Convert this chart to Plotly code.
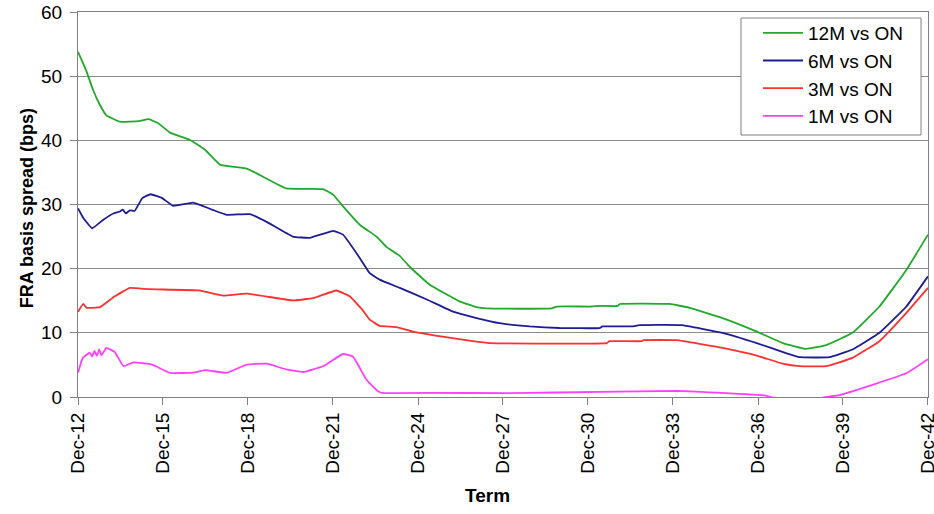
import plotly.graph_objects as go

# ---- data ----
dates_12m = ["2012-12-01", "2013-02-08", "2013-03-22", "2013-06-15", "2013-09-10", "2013-12-01",
             "2014-05-25", "2015-01-25", "2015-06-01", "2015-10-10", "2016-03-01", "2016-11-15",
             "2017-05-30", "2017-12-05", "2018-11-15", "2019-05-01", "2020-04-10", "2021-07-25",
             "2021-12-05", "2022-04-10", "2022-11-15", "2023-06-15", "2023-10-20", "2024-04-10",
             "2024-08-15", "2025-05-01", "2026-05-20", "2026-12-25", "2027-05-05", "2029-08-20",
             "2029-10-25", "2031-01-15", "2031-04-30", "2031-12-20", "2032-01-15", "2033-10-15",
             "2034-07-05", "2035-09-01", "2036-11-15", "2037-10-15", "2038-08-15", "2039-05-01",
             "2040-04-01", "2041-03-15", "2042-02-25", "2042-12-01"]
vals_12m = [53.8, 51.9, 50.7, 47.8, 45.5, 43.9,
            42.9, 43.0, 43.3, 42.6, 41.2, 40.05,
            38.5, 36.2, 35.6, 34.6, 32.5, 32.4,
            31.5, 29.7, 26.8, 25.0, 23.4, 22.0,
            20.3, 17.5, 14.9, 14.0, 13.8, 13.8,
            14.1, 14.1, 14.2, 14.2, 14.5, 14.5,
            13.9, 12.3, 10.2, 8.4, 7.5, 8.1,
            10.0, 14.1, 19.8, 25.3]

dates_6m = ["2012-12-01", "2013-02-08", "2013-06-01", "2013-10-20", "2014-03-01", "2014-05-25",
            "2014-07-01", "2014-08-10", "2014-10-01", "2014-12-01", "2015-03-10", "2015-06-25",
            "2015-11-20", "2016-04-10", "2016-12-25", "2017-08-25", "2018-03-01", "2018-12-25",
            "2019-07-30", "2020-07-01", "2021-02-05", "2021-12-05", "2022-04-10", "2022-11-15",
            "2023-03-20", "2023-07-25", "2024-04-10", "2025-03-25", "2026-02-25", "2026-12-25",
            "2027-10-20", "2028-11-10", "2029-12-01", "2031-04-30", "2031-06-05", "2032-06-15",
            "2032-09-25", "2034-03-20", "2035-09-01", "2036-11-15", "2037-12-05", "2038-05-20",
            "2039-06-10", "2040-04-01", "2041-03-15", "2042-02-25", "2042-12-01"]
vals_6m = [29.4, 27.9, 26.3, 27.6, 28.6, 28.9,
           29.2, 28.6, 29.1, 29.0, 31.0, 31.6,
           31.0, 29.8, 30.3, 29.2, 28.4, 28.5,
           27.3, 25.0, 24.8, 25.9, 25.3, 21.6,
           19.3, 18.3, 17.0, 15.2, 13.3, 12.3,
           11.5, 11.0, 10.75, 10.75, 11.0, 11.0,
           11.2, 11.2, 10.0, 8.4, 6.8, 6.2,
           6.2, 7.4, 10.0, 14.1, 18.8]

dates_3m = ["2012-12-01", "2013-02-08", "2013-03-22", "2013-09-10", "2014-03-20", "2014-10-01",
            "2015-06-01", "2017-03-10", "2018-01-15", "2018-11-15", "2020-07-01", "2021-03-20",
            "2022-01-15", "2022-07-05", "2022-12-20", "2023-03-20", "2023-07-25", "2024-03-01",
            "2024-09-25", "2025-10-15", "2026-11-05", "2027-06-10", "2031-07-30", "2031-09-05",
            "2032-10-20", "2032-11-15", "2034-01-15", "2035-09-01", "2036-11-15", "2037-10-15",
            "2038-05-20", "2039-05-01", "2040-04-01", "2041-03-15", "2042-02-25", "2042-12-01"]
vals_3m = [13.3, 14.5, 13.9, 14.0, 15.7, 17.0,
           16.8, 16.6, 15.8, 16.1, 15.05, 15.4,
           16.6, 15.7, 13.5, 12.05, 11.1, 10.9,
           10.2, 9.4, 8.7, 8.4, 8.4, 8.7,
           8.7, 8.85, 8.85, 7.65, 6.45, 5.2,
           4.8, 4.8, 6.1, 8.7, 13.1, 17.0]

dates_1m = ["2012-12-01", "2013-02-01", "2013-05-01", "2013-06-01", "2013-07-01", "2013-08-01",
            "2013-09-01", "2013-10-01", "2013-12-01", "2014-03-20", "2014-07-10", "2014-11-15",
            "2015-07-15", "2016-03-01", "2016-12-25", "2017-05-30", "2018-03-01", "2018-11-15",
            "2019-07-30", "2020-04-10", "2020-11-15", "2021-07-25", "2022-04-10", "2022-08-15",
            "2023-02-05", "2023-07-05", "2023-08-20", "2025-07-30", "2027-11-01", "2029-10-25",
            "2034-02-01", "2035-06-15", "2036-05-30", "2037-03-10", "2037-07-01", "2038-08-15",
            "2039-05-01", "2039-10-15", "2040-12-15", "2042-02-25", "2042-12-01"]
vals_1m = [3.8, 6.1, 6.9, 6.3, 7.2, 6.4,
           7.4, 6.5, 7.65, 7.0, 4.8, 5.4,
           5.05, 3.76, 3.8, 4.2, 3.76, 5.05,
           5.2, 4.3, 3.9, 4.8, 6.7, 6.3,
           2.7, 0.9, 0.65, 0.65, 0.6, 0.7,
           0.97, 0.69, 0.46, 0.23, -0.2, -0.6,
           0.0, 0.3, 1.9, 3.7, 5.9]

series_names = ["12M vs ON", "6M vs ON", "3M vs ON", "1M vs ON"]
series_colors = ["#22a82a", "#1c1c96", "#ff3030", "#ff40ff"]
y_ticks = [0, 10, 20, 30, 40, 50, 60]

FONT = "Liberation Sans, Arial, sans-serif"

fig = go.Figure()
for name, color, xs, ys in zip(series_names, series_colors,
                               [dates_12m, dates_6m, dates_3m, dates_1m],
                               [vals_12m, vals_6m, vals_3m, vals_1m]):
    fig.add_trace(go.Scatter(x=xs, y=ys, mode="lines", name=name, legendgroup=name,
                             line=dict(color=color, width=1.8, shape="spline", smoothing=0.3)))

fig.update_layout(
    width=934, height=514,
    margin=dict(l=78, r=6, t=12, b=117, autoexpand=False),
    paper_bgcolor="white", plot_bgcolor="white",
    font=dict(family=FONT, size=18, color="black"),
    showlegend=True,
    legend=dict(x=0.8, y=0.995, xanchor="left", yanchor="top",
                bgcolor="rgba(0,0,0,0)", borderwidth=0,
                font=dict(family=FONT, size=19, color="black"),
                tracegroupgap=0, itemwidth=40),
    shapes=[dict(type="rect", xref="paper", yref="paper",
                 x0=0.78, x1=0.9918, y0=0.6805, y1=0.9844,
                 line=dict(color="#808080", width=1), fillcolor="white", layer="above")],
    xaxis=dict(type="date", range=["2012-12-01", "2042-12-01 06:00"],
               tick0="2012-12-01", dtick="M36", tickformat="%b-%y",
               tickangle=-90, ticks="outside", ticklen=7, tickcolor="#808080",
               showgrid=False, showline=True, linecolor="#808080", linewidth=1,
               mirror=True, zeroline=False, automargin=False,
               ticklabeloverflow="allow",
               tickfont=dict(family=FONT, size=19, color="black")),
    yaxis=dict(range=[0, 60], tickvals=y_ticks, ticks="outside", ticklen=7,
               tickcolor="#808080", showgrid=True, gridcolor="#8c8c8c", gridwidth=1,
               showline=True, linecolor="#808080", linewidth=1, mirror=True,
               zeroline=False, ticklabelstandoff=4, automargin=False,
               ticklabeloverflow="allow",
               tickfont=dict(family=FONT, size=19, color="black")),
    annotations=[
        dict(text="<b>Term</b>", xref="paper", yref="paper", x=0.482, y=-0.257,
             xanchor="center", yanchor="middle", showarrow=False,
             font=dict(family=FONT, size=19, color="black")),
        dict(text="<b>FRA basis spread (bps)</b>", xref="paper", yref="paper",
             x=-0.06, y=0.49, xanchor="center", yanchor="middle", textangle=-90,
             showarrow=False, font=dict(family=FONT, size=18, color="black")),
    ],
)

# remove the browser's default 8px page margin so the figure sits at the window origin
fig.write_html("out.html", config={"displayModeBar": False},
               post_script="document.body.style.margin='0';")
